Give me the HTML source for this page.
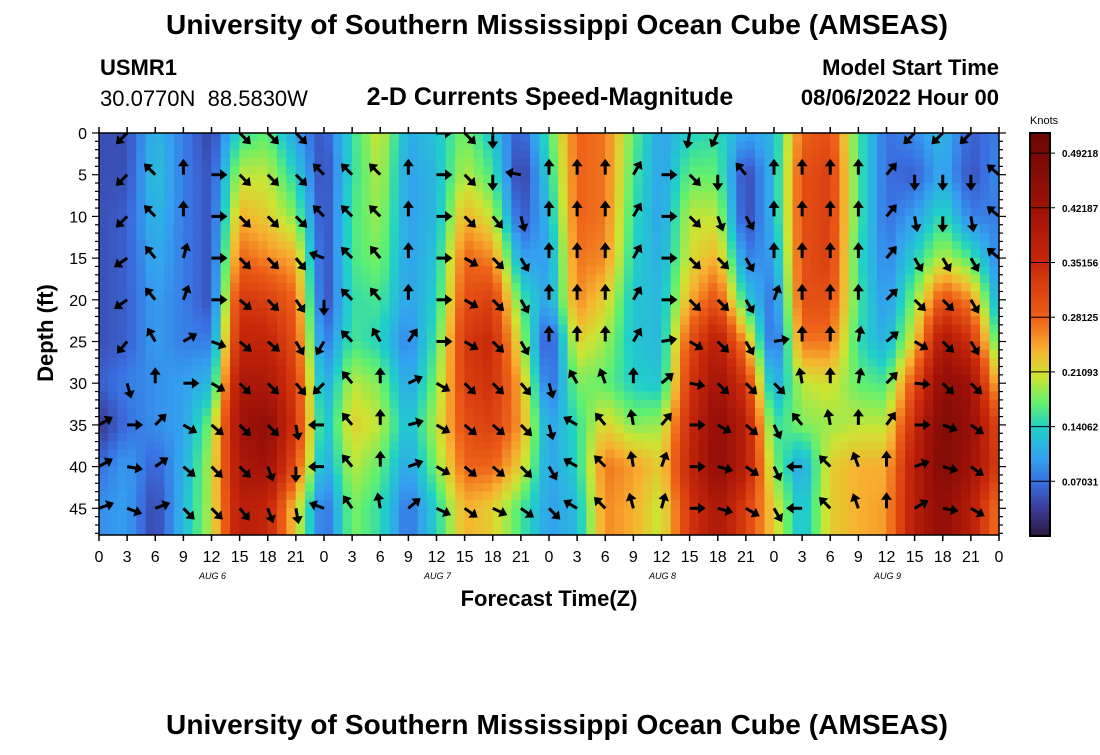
<!DOCTYPE html>
<html><head><meta charset="utf-8"><style>
body{margin:0;background:#fff;width:1100px;height:750px;overflow:hidden;font-family:"Liberation Sans",sans-serif}
svg text{font-family:"Liberation Sans",sans-serif}
</style></head><body>
<svg id="chart" width="1100" height="750" xmlns="http://www.w3.org/2000/svg">
<text x="557" y="34" text-anchor="middle" font-size="28" font-weight="bold" textLength="782">University of Southern Mississippi Ocean Cube (AMSEAS)</text>
<text x="100" y="75" font-size="22" font-weight="bold">USMR1</text>
<text x="100" y="106" font-size="22" xml:space="preserve">30.0770N  88.5830W</text>
<text x="550" y="105" text-anchor="middle" font-size="25" font-weight="bold">2-D Currents Speed-Magnitude</text>
<text x="999" y="75" text-anchor="end" font-size="22" font-weight="bold">Model Start Time</text>
<text x="999" y="105" text-anchor="end" font-size="22" font-weight="bold">08/06/2022 Hour 00</text>
<text transform="translate(53,333) rotate(-90)" text-anchor="middle" font-size="22" font-weight="bold">Depth (ft)</text>
<text x="549" y="606" text-anchor="middle" font-size="22" font-weight="bold">Forecast Time(Z)</text>
<text x="557" y="734" text-anchor="middle" font-size="28" font-weight="bold" textLength="782">University of Southern Mississippi Ocean Cube (AMSEAS)</text>
<text x="1030" y="124" font-size="11">Knots</text>
<clipPath id="pc"><rect x="99" y="133" width="900" height="402"/></clipPath>
<g id="heat" clip-path="url(#pc)"></g>
<g id="arrows" clip-path="url(#pc)"></g>
<g id="axes"></g>
<g id="cbar"></g>
</svg>
<script>
const hours=[0,3,6,9,12,15,18,21,24,27,30,33,36,39,42,45,48,51,54,57,60,63,66,69,72,75,78,81,84,87,90,93,96];
const depths=[0,5,10,15,20,25,30,35,40,45];
// speed (knots) per column (hour), values listed by depth
const spd0=[.05,.05,.12,.08,.04,.15,.17,.10,.05,.15,.21,.11,.13,.18,.13,.05,.16,.28,.27,.17,.10,.14,.15,.10,.12,.28,.30,.16,.07,.09,.12,.06,.08];
const spd5=[.05,.05,.13,.08,.05,.20,.20,.14,.04,.15,.20,.10,.12,.20,.16,.03,.14,.28,.27,.16,.10,.17,.17,.04,.12,.30,.32,.16,.07,.06,.11,.05,.09];
const spd10=[.05,.06,.12,.08,.05,.24,.22,.18,.04,.16,.19,.10,.12,.24,.20,.05,.12,.28,.27,.15,.10,.20,.20,.04,.12,.30,.32,.16,.07,.10,.15,.08,.08];
const spd15=[.05,.06,.11,.08,.05,.28,.26,.24,.04,.16,.18,.10,.13,.28,.26,.10,.10,.27,.26,.14,.11,.21,.24,.08,.10,.30,.32,.15,.08,.14,.20,.16,.08];
const spd20=[.05,.06,.10,.08,.05,.33,.32,.28,.04,.15,.16,.10,.14,.30,.32,.16,.10,.26,.22,.13,.12,.24,.30,.14,.07,.30,.30,.16,.09,.18,.30,.26,.10];
const spd25=[.05,.06,.10,.08,.08,.36,.36,.30,.07,.16,.14,.08,.16,.33,.35,.20,.04,.22,.19,.13,.12,.30,.38,.25,.05,.27,.27,.15,.11,.22,.40,.34,.15];
const spd30=[.06,.08,.09,.10,.12,.40,.40,.32,.10,.20,.18,.10,.18,.32,.34,.24,.06,.18,.17,.14,.13,.33,.42,.33,.10,.20,.21,.17,.16,.30,.45,.42,.22];
const spd35=[.03,.07,.09,.10,.18,.42,.45,.33,.12,.22,.20,.12,.20,.30,.32,.25,.10,.15,.22,.18,.19,.35,.45,.38,.15,.18,.19,.20,.20,.35,.48,.44,.30];
const spd40=[.07,.10,.06,.11,.20,.40,.42,.30,.10,.20,.17,.10,.18,.28,.28,.22,.10,.14,.27,.25,.22,.36,.45,.38,.18,.10,.22,.24,.24,.38,.48,.42,.32];
const spd45=[.09,.10,.04,.12,.20,.38,.36,.22,.06,.18,.15,.07,.14,.24,.22,.16,.10,.12,.26,.24,.20,.33,.40,.32,.22,.12,.22,.24,.25,.38,.45,.38,.26];
const speedRows=[spd0,spd5,spd10,spd15,spd20,spd25,spd30,spd35,spd40,spd45];
// arrow direction (compass degrees, null = none) per depth, by hour
const dir0=[null,225,null,null,null,135,135,135,null,null,null,null,90,135,180,null,null,null,null,null,null,190,205,null,null,null,null,null,null,225,225,225,null];
const dir5=[null,225,315,0,90,135,135,135,315,315,315,0,90,135,180,280,0,0,0,30,90,135,180,320,0,0,0,0,40,180,180,180,310];
const dir10=[null,225,315,0,90,135,135,135,315,315,315,0,90,135,140,165,0,0,0,30,90,135,160,150,0,0,0,0,40,170,180,170,310];
const dir15=[null,235,320,15,90,135,135,140,290,315,320,0,90,120,135,150,0,0,0,30,90,135,135,150,0,0,0,0,40,150,150,150,310];
const dir20=[null,235,320,20,90,130,135,145,180,315,320,0,90,120,135,150,0,0,0,30,90,135,135,150,20,0,0,0,45,135,135,150,null];
const dir25=[null,220,330,60,110,130,130,150,210,315,330,35,90,120,135,150,0,0,0,30,80,120,135,150,80,0,0,10,50,120,135,150,null];
const dir30=[null,165,0,90,120,135,135,140,225,320,0,65,120,135,135,140,165,330,340,0,50,100,135,135,135,350,0,10,45,95,135,135,null];
const dir35=[60,90,45,120,130,135,135,170,270,320,0,75,120,130,130,135,165,300,320,350,40,90,120,130,155,320,350,0,35,90,110,125,null];
const dir40=[60,100,55,130,135,135,160,180,270,320,0,70,120,130,130,135,150,300,315,350,20,90,105,125,155,270,315,340,0,70,105,125,null];
const dir45=[70,110,70,135,135,140,160,170,290,325,350,50,115,125,115,125,135,300,315,345,15,90,105,120,150,270,315,340,0,60,100,120,null];
const dirRows=[dir0,dir5,dir10,dir15,dir20,dir25,dir30,dir35,dir40,dir45];
const xTickLabels=["0","3","6","9","12","15","18","21"];
const dayLabels=["AUG  6","AUG  7","AUG  8","AUG  9"];
const yTickLabels=[0,5,10,15,20,25,30,35,40,45];
const cbarTicks=[0.07031,0.14062,0.21093,0.28125,0.35156,0.42187,0.49218];

const NS="http://www.w3.org/2000/svg";
const X0=99,X1=999,Y0=133,Y1=535,HMAX=96,DMAX=48.2;
const xs=h=>X0+(X1-X0)*h/HMAX;
const ys=d=>Y0+(Y1-Y0)*d/DMAX;
const VMAX=0.518;
const stops=[[0,[42,24,60]],[.035,[58,58,150]],[.07,[58,110,225]],[.1,[52,160,240]],[.14,[32,208,200]],[.17,[96,240,112]],[.205,[205,228,50]],[.24,[248,176,48]],[.28,[238,96,24]],[.35,[200,40,10]],[.42,[160,18,8]],[.52,[106,6,6]]];
function cmap(v){v=Math.max(0,Math.min(.52,v));for(let i=1;i<stops.length;i++){if(v<=stops[i][0]){const a=stops[i-1],b=stops[i],t=(v-a[0])/(b[0]-a[0]);const c=a[1].map((q,k)=>Math.round(q+(b[1][k]-q)*t));return`rgb(${c[0]},${c[1]},${c[2]})`;}}return"rgb(106,6,6)";}
function el(tag,attrs,parent){const e=document.createElementNS(NS,tag);for(const k in attrs)e.setAttribute(k,attrs[k]);parent.appendChild(e);return e;}
function sample(h,d){
  let i=0;while(i<hours.length-2&&hours[i+1]<h)i++;
  let j=0;while(j<depths.length-2&&depths[j+1]<d)j++;
  let tx=(h-hours[i])/(hours[i+1]-hours[i]),ty=(d-depths[j])/(depths[j+1]-depths[j]);
  tx=Math.max(0,Math.min(1,tx));ty=Math.max(0,Math.min(1,ty));
  const a=speedRows[j][i],b=speedRows[j][i+1],c=speedRows[j+1][i],e=speedRows[j+1][i+1];
  return a*(1-tx)*(1-ty)+b*tx*(1-ty)+c*(1-tx)*ty+e*tx*ty;
}
const heat=document.getElementById('heat');
for(let h=0;h<96;h+=1){for(let d=0;d<49;d+=1){
  const r=el('rect',{x:xs(h)-0.2,y:ys(d)-0.2,width:xs(h+1)-xs(h)+0.4,height:ys(d+1)-ys(d)+0.4,fill:cmap(sample(h+0.5,d+0.5))},heat);
  
  
}}
const ag=document.getElementById('arrows');
dirRows.forEach((row,ri)=>{row.forEach((a,ci)=>{
  if(a===null)return;
  const cx=xs(hours[ci]),cy=ys(depths[ri]);
  const g=el('g',{transform:`translate(${cx},${cy}) rotate(${a})`},ag);
  
  
  el('line',{x1:0,y1:0,x2:0,y2:-10,stroke:'#000','stroke-width':3},g);
  el('path',{d:'M-5.5,-8.5 L0,-16 L5.5,-8.5 Z',fill:'#000'},g);
});});
const ax=document.getElementById('axes');
const frame=el('rect',{x:X0,y:Y0,width:X1-X0,height:Y1-Y0,fill:'none',stroke:'#000','stroke-width':1.5},ax);


for(let h=0;h<=96;h+=3){
  const x=xs(h);
  el('line',{x1:x,y1:Y0,x2:x,y2:Y0-6,stroke:'#000','stroke-width':1.5},ax);
  el('line',{x1:x,y1:Y1,x2:x,y2:Y1+6,stroke:'#000','stroke-width':1.5},ax);
  const t=el('text',{x:x,y:Y1+27,'text-anchor':'middle','font-size':16},ax);
  
  
  t.textContent=h===96?"0":xTickLabels[(h%24)/3];
}
dayLabels.forEach((s,i)=>{
  const t=el('text',{x:xs(12+24*i)+1,y:Y1+44,'text-anchor':'middle','font-size':9,'font-style':'italic','font-family':'Liberation Serif, serif'},ax);
  
  
  t.textContent=s;
});
for(let d=0;d<=48;d++){
  const y=ys(d),L=d%5===0?7:4;
  el('line',{x1:X0,y1:y,x2:X0-L,y2:y,stroke:'#000','stroke-width':1.2},ax);
  el('line',{x1:X1,y1:y,x2:X1+L,y2:y,stroke:'#000','stroke-width':1.2},ax);
}
yTickLabels.forEach(d=>{
  const t=el('text',{x:87,y:ys(d)+6,'text-anchor':'end','font-size':16},ax);
  
  
  t.textContent=d;
});
const cb=document.getElementById('cbar');
const CX=1030,CW=20,CY0=133,CY1=536;
const cy=v=>CY1-(CY1-CY0)*v/VMAX;
for(let i=0;i<200;i++){
  const v0=VMAX*i/200,v1=VMAX*(i+1)/200;
  el('rect',{x:CX,y:cy(v1)-0.3,width:CW,height:cy(v0)-cy(v1)+0.6,fill:cmap((v0+v1)/2)},cb);
}
const cf=el('rect',{x:CX,y:CY0,width:CW,height:CY1-CY0,fill:'none',stroke:'#000','stroke-width':2},cb);


cbarTicks.forEach(v=>{
  el('line',{x1:CX,y1:cy(v),x2:CX+CW+5,y2:cy(v),stroke:'#000','stroke-width':1},cb);
  const t=el('text',{x:CX+32,y:cy(v)+4,'font-size':10,'font-weight':'bold'},cb);
  
  
  t.textContent=v.toFixed(5);
});
</script>
</body></html>
